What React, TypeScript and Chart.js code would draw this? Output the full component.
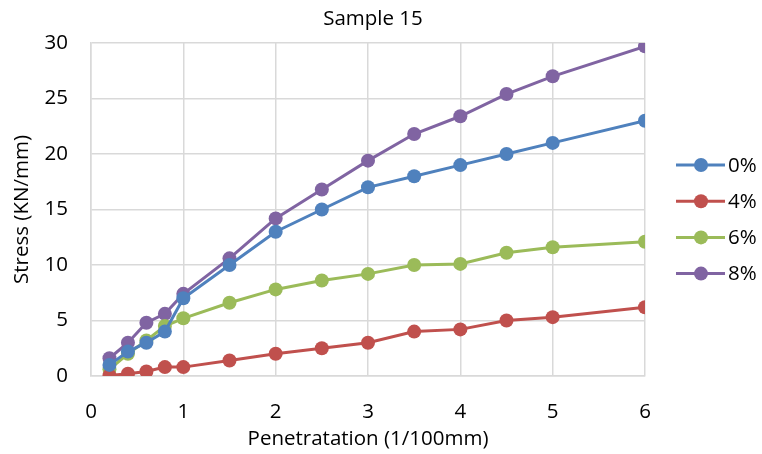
import { useEffect, useRef } from "react";
import { Chart, registerables } from "chart.js";
Chart.register(...registerables);

const titleText = "Sample 15";
const xTitle = "Penetratation (1/100mm)";
const yTitle = "Stress (KN/mm)";
const seriesNames = ["0%", "4%", "6%", "8%"];
const seriesColors = ["#4F81BD", "#C0504D", "#9BBB59", "#8064A2"];

const penetration = [0.2, 0.4, 0.6, 0.8, 1, 1.5, 2, 2.5, 3, 3.5, 4, 4.5, 5, 6];
const stress0 = [1.0, 2.2, 3.0, 4.0, 7.0, 10.0, 13.0, 15.0, 17.0, 18.0, 19.0, 20.0, 21.0, 23.0];
const stress4 = [0.05, 0.2, 0.4, 0.8, 0.8, 1.4, 2.0, 2.5, 3.0, 4.0, 4.2, 5.0, 5.3, 6.2];
const stress6 = [0.6, 2.0, 3.2, 4.5, 5.2, 6.6, 7.8, 8.6, 9.2, 10.0, 10.1, 11.1, 11.6, 12.1];
const stress8 = [1.6, 3.0, 4.8, 5.6, 7.4, 10.6, 14.2, 16.8, 19.4, 21.8, 23.4, 25.4, 27.0, 29.7];
const allSeries = [stress0, stress4, stress6, stress8];

const FONT = "'Open Sans', 'Liberation Sans', sans-serif";
const FONT_SIZE = 20.5;

const overlayPlugin = {
  id: "overlay",
  afterDraw(chart: any) {
    const ctx = chart.ctx;
    ctx.save();
    ctx.fillStyle = "#000";
    ctx.font = `${FONT_SIZE}px ${FONT}`;
    ctx.textAlign = "center";
    ctx.textBaseline = "middle";
    ctx.fillText(titleText, 373, 19);
    // legend
    const legendTop = 165;
    const step = 36.2;
    seriesNames.forEach((name, i) => {
      const y = legendTop + i * step;
      ctx.strokeStyle = seriesColors[i];
      ctx.lineWidth = 3;
      ctx.beginPath();
      ctx.moveTo(676, y);
      ctx.lineTo(725, y);
      ctx.stroke();
      ctx.fillStyle = seriesColors[i];
      ctx.beginPath();
      ctx.arc(701, y, 7, 0, Math.PI * 2);
      ctx.fill();
      ctx.fillStyle = "#000";
      ctx.textAlign = "left";
      ctx.fillText(name, 728, y + 1);
    });
    ctx.restore();
  },
};

export default function App() {
  const ref = useRef<HTMLCanvasElement | null>(null);
  useEffect(() => {
    if (!ref.current) return;
    const chart = new Chart(ref.current, {
      type: "line",
      data: {
        datasets: seriesNames.map((name, i) => ({
          label: name,
          data: penetration.map((x, j) => ({ x, y: allSeries[i][j] })),
          borderColor: seriesColors[i],
          backgroundColor: seriesColors[i],
          borderWidth: 3,
          pointRadius: 7,
          pointBorderWidth: 0,
          pointHoverRadius: 7,
          tension: 0,
          fill: false,
        })),
      },
      options: {
        responsive: false,
        animation: false,
        layout: { padding: { top: 43, right: 117, bottom: 0, left: 0 } },
        plugins: {
          legend: { display: false },
          title: { display: false },
          tooltip: { enabled: false },
        },
        scales: {
          x: {
            type: "linear",
            min: 0,
            max: 6,
            ticks: {
              stepSize: 1,
              color: "#000",
              font: { family: FONT, size: FONT_SIZE },
              padding: 24,
            },
            grid: { color: "#D9D9D9", lineWidth: 1.5, drawTicks: false },
            border: { color: "#D9D9D9", width: 1.5 },
            title: {
              display: true,
              text: xTitle,
              color: "#000",
              font: { family: FONT, size: FONT_SIZE },
              padding: { top: 0, bottom: 3 },
            },
            afterFit: (scale: any) => {
              scale.height = 78;
            },
          },
          y: {
            min: 0,
            max: 30,
            ticks: {
              stepSize: 5,
              color: "#000",
              font: { family: FONT, size: FONT_SIZE },
              padding: 23,
            },
            grid: { color: "#D9D9D9", lineWidth: 1.5, drawTicks: false },
            border: { color: "#D9D9D9", width: 1.5 },
            title: {
              display: true,
              text: yTitle,
              color: "#000",
              font: { family: FONT, size: FONT_SIZE },
              padding: { top: 10, bottom: 0 },
            },
            afterFit: (scale: any) => {
              scale.width = 91;
            },
          },
        },
      },
      plugins: [overlayPlugin],
    });
    return () => chart.destroy();
  }, []);
  return (
    <div style={{ position: "fixed", left: 0, top: 0, width: 762, height: 454, background: "#fff" }}>
      <canvas ref={ref} width={762} height={454} style={{ width: 762, height: 454 }} />
    </div>
  );
}
